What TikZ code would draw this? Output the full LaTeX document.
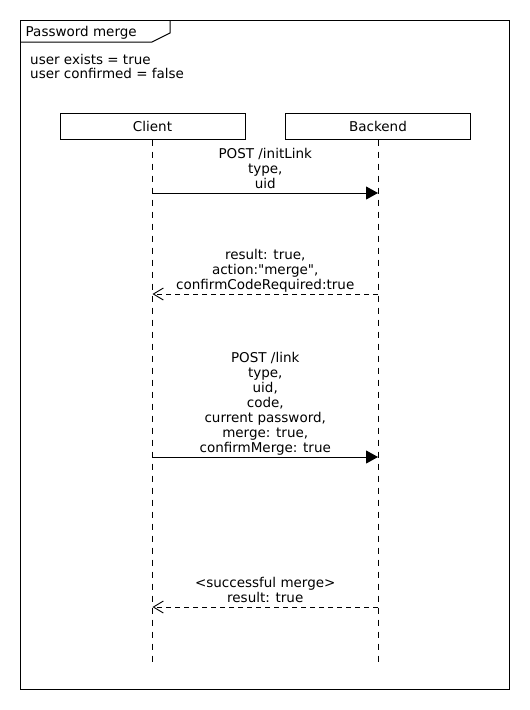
\documentclass[tikz,border=0pt]{standalone}
\usepackage{fontspec}
\newfontfamily\dvs{DejaVu Sans}
\usetikzlibrary{arrows.meta}
\begin{document}
\begin{tikzpicture}[x=1pt,y=-1pt,
  every node/.style={font=\dvs\fontsize{13.5}{15}\selectfont},
  frameline/.style={line width=1pt},
  lifebox/.style={draw, line width=1pt, minimum width=185pt, minimum height=26pt, inner sep=0pt},
  lifeline/.style={line width=1pt, dash pattern=on 6pt off 6pt},
  sync/.style={line width=1pt, -{Triangle[length=12pt,width=13pt]}},
  reply/.style={line width=0.9pt, dash pattern=on 5pt off 4pt, -{Straight Barb[length=10pt,width=12pt]}},
  msglabel/.style={align=center, inner sep=0pt, text depth=0pt, anchor=south}]
\path[use as bounding box] (0,0) rectangle (530,710);
\draw[frameline] (20,20) rectangle (509,689);
\draw[frameline] (20,42) -- (152,42) -- (170,33) -- (170,20);
\node[anchor=base west, inner sep=0pt] (title) at (25.5,36) {Password merge};
\node[anchor=south west, align=left, inner sep=0pt, text depth=0pt, font=\dvs\fontsize{13.5}{14}\selectfont] (cond) at (30,78.5) {user exists = true\\user confirmed = false};
\node[lifebox] (client) at (152.5,126) {Client};
\node[lifebox] (backend) at (378,126) {Backend};
\coordinate (clientend) at (152.5,663);
\coordinate (backendend) at (378,663);
\draw[lifeline] (client.south) -- (clientend);
\draw[lifeline] (backend.south) -- (backendend);
% message 1
\coordinate (m1c) at (152.5,193);
\coordinate (m1b) at (378,193);
\draw[sync] (m1c) -- (m1b);
\node[msglabel] (l1) at (265.25,189) {POST /initLink\\type,\\uid};
% message 2
\coordinate (m2c) at (152.5,294);
\coordinate (m2b) at (378,294);
\draw[reply] (m2b) -- (m2c);
\node[msglabel] (l2) at (265.25,290) {result: true,\\action:"merge",\\confirmCodeRequired:true};
% message 3
\coordinate (m3c) at (152.5,457);
\coordinate (m3b) at (378,457);
\draw[sync] (m3c) -- (m3b);
\node[msglabel] (l3) at (265.25,453) {POST /link\\type,\\uid,\\code,\\current password,\\merge: true,\\confirmMerge: true};
% message 4
\coordinate (m4c) at (152.5,607);
\coordinate (m4b) at (378,607);
\draw[reply] (m4b) -- (m4c);
\node[msglabel] (l4) at (265.25,603) {<successful merge>\\result: true};
\end{tikzpicture}
\end{document}
